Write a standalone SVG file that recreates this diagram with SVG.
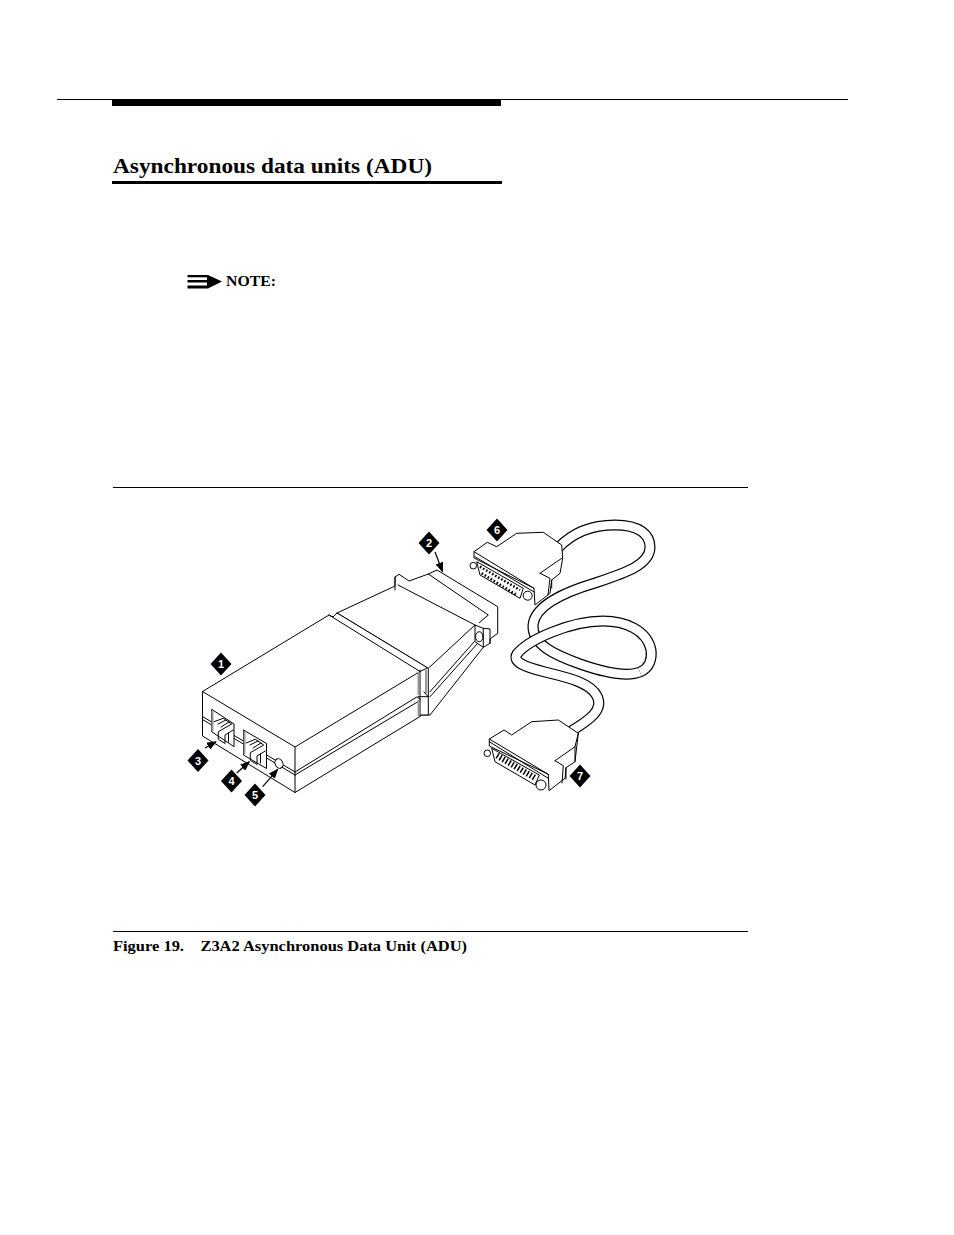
<svg xmlns="http://www.w3.org/2000/svg" width="954" height="1235" viewBox="0 0 954 1235">
<style>
.l{fill:none;stroke:#000;stroke-width:1;stroke-linejoin:round;stroke-linecap:round}
.a{fill:none;stroke:#000;stroke-width:1.2}
.f{fill:#fff;stroke:#000;stroke-width:1;stroke-linejoin:round}
.g{fill:none;stroke:#999;stroke-width:2}
.k{fill:#000}
.p{fill:none;stroke:#000;stroke-width:2.500;stroke-dasharray:1.600 1.900}
.n{font:bold 11px "Liberation Sans",Arial,sans-serif;fill:#fff;text-anchor:middle}
.s{font-family:"Liberation Serif","Times New Roman",serif;font-weight:bold;fill:#000}
.cb{fill:none;stroke:#000;stroke-width:11}
.cw{fill:none;stroke:#fff;stroke-width:8.6}
</style>
<defs>
<marker id="a" markerWidth="10" markerHeight="8" refX="9" refY="4" orient="auto" markerUnits="userSpaceOnUse"><path d="M0 0L10 4L0 8z" fill="#000"/></marker>
<path id="d" d="M0 -11.500L10.500 0L0 11.500L-10.500 0z" fill="#000"/>
</defs>
<rect width="954" height="1235" fill="#fff"/>
<g id="page-rules">
<rect class="k" x="57" y="99" width="791" height="1"/>
<rect class="k" x="112" y="99" width="389" height="7"/>
<rect class="k" x="112" y="181" width="390" height="3"/>
<rect class="k" x="113" y="487" width="635" height="1"/>
<rect class="k" x="113" y="931" width="635" height="1"/>
</g>
<text class="s" x="113" y="173" font-size="22" textLength="319" lengthAdjust="spacingAndGlyphs">Asynchronous data units (ADU)</text>
<g id="note-icon">
<path class="k" d="M187.500 275H208L222 281.500L208 288.500H187.500z"/>
<rect x="187" y="277.300" width="20" height="2.700" fill="#fff"/>
<rect x="187" y="282.500" width="20" height="3" fill="#fff"/>
</g>
<text class="s" x="226" y="286" font-size="14.500" textLength="50" lengthAdjust="spacingAndGlyphs">NOTE:</text>
<g id="cable">
<path class="cb" d="M558 548C575 530 595 525 615 525C640 525 650 535 650 547C650 565 625 573 595 583C565 592 535 605 533 625C532 645 555 655 580 664C600 671 625 678 640 672"/>
<path class="cw" d="M558 548C575 530 595 525 615 525C640 525 650 535 650 547C650 565 625 573 595 583C565 592 535 605 533 625C532 645 555 655 580 664C600 671 625 678 640 672"/>
<path class="cb" d="M640 672C650 668 652 658 651 650C647 630 625 621 603 621C570 621 528 640 517 654C512 662 525 667 545 672C565 677 590 682 597 696C604 710 590 720 568 733"/>
<path class="cw" d="M640 672C650 668 652 658 651 650C647 630 625 621 603 621C570 621 528 640 517 654C512 662 525 667 545 672C565 677 590 682 597 696C604 710 590 720 568 733"/>
</g>
<g id="adu">
<path class="f" d="M395 577L399 574.300L409 581L428.300 574L437 570L497.700 606.700V633.300L490 639V643.300L483.300 647.300L430 715H421V700L337 613L395 586Z"/>
<path class="l" d="M395 577V590M398 585L475 625M428.300 574L488.300 615L479.300 622.700M337 613L428.300 668.300L475 625V641.700L483.300 647.300V628.300L475 625M483.300 628.300L490 629V643.300M430 691.700L474.300 641.700M430 696.700L477.700 643.300"/>
<ellipse class="l" cx="479.300" cy="636.700" rx="3.800" ry="5"/>
<path class="f" d="M202.500 691.500L329 615L333 617L337 613L428.300 668.300V715H420V716.500L295 792.500L202.500 736Z"/>
<path class="l" d="M202.500 691.500L295 747L420 671.500L329 615M295 747V792.500M420 670V716.500M426.700 668.300L420 671.500M295 772L416.700 697L420 699M295 775L420 700.500M202.500 716.500L295 772M202.500 719.500L295 775M418 696.700L428.300 696.700L424 692"/>
<path class="g" d="M418.500 672V695M418.500 700V716M426 670V693"/>
<path class="f" d="M211.700 709.300L234 724V746.700L211.700 731.700Z"/>
<path class="l" d="M214 721.700L223.300 718.300L231.700 724L218.300 731.700V739.300L225 743.500V735L233.300 730M218 724L226 720M221 727L229 722M228.500 733V742"/>
<path class="g" d="M212.500 710.500V731" stroke-width="1.500"/>
<path class="f" d="M243.500 730L266.500 743.500V768.500L243.500 755Z"/>
<path class="l" d="M246 743L255.300 739.300L263.700 745L250.300 752.700V760.300L257 764.500V756L265.300 751M250 745L258 741M253 748L261 743M260.500 754V763"/>
<path class="g" d="M244.500 731V754" stroke-width="1.500"/>
<ellipse class="f" cx="279" cy="763.500" rx="3.800" ry="5" transform="rotate(-25 279 763.500)"/>
</g>
<g id="connector-6">
<path class="f" d="M474 551.700L487.300 542.300L496.700 546.700L516.700 533.300L543.300 532.300L561.700 545L562.700 558.300L560 573.300L551.700 580L550 593.300L535 605L534 588.300L474 558Z"/>
<path class="l" d="M474 551.700L534 588.300M475 556.700L534 592M540 573.300L561.700 558.300M540 573.300L550 578.300L548 595M551.700 580V588"/>
<path class="f" d="M476.700 561.700L523.300 588.300L520 598.300L480 575Z"/>
<path class="p" d="M480 566.700L520 590"/>
<path class="p" d="M481.700 573.300L516.700 595"/>
<circle class="f" cx="473.300" cy="565.700" r="3.300"/>
<circle class="f" cx="527.700" cy="595.700" r="4.500"/>
</g>
<g id="connector-7">
<path class="f" d="M489.300 739L504 730L511.700 735L531.700 721.700L558.300 720L578.300 733.300L575 761.700L566 767.700L565 778.300L549 790.700L548.300 774.300L489.300 746Z"/>
<path class="l" d="M489.300 739L548.300 774.300M489.300 741.700L548.300 778.300M555 760.700L575 746.700L578.300 733.300M575 746.700V761.700M555 760.700L563.300 765.700L562 783M566 767.700V779"/>
<path class="f" d="M491.700 748.300L539.300 775L535 785L495 761.700Z"/>
<path class="p" d="M497 755.500L535 778" style="stroke-width:6;stroke-dasharray:1.500 2"/>
<circle class="f" cx="487.300" cy="753.300" r="3.300"/>
<circle class="f" cx="541" cy="785" r="5"/>
</g>
<g id="callout-arrows">
<path class="a" d="M435 552L442.500 571.500" marker-end="url(#a)"/>
<path class="a" d="M205 748L216 741.700" marker-end="url(#a)"/>
<path class="a" d="M236.700 773L249.300 761.700" marker-end="url(#a)"/>
<path class="a" d="M262.700 786.700L277.700 769.300" marker-end="url(#a)"/>
</g>
<g id="badge-1"><use href="#d" x="221" y="664"/><text class="n" x="221" y="668">1</text></g>
<g id="badge-2"><use href="#d" x="429" y="543"/><text class="n" x="429" y="547">2</text></g>
<g id="badge-3"><use href="#d" x="198" y="760.500"/><text class="n" x="198" y="764.500">3</text></g>
<g id="badge-4"><use href="#d" x="231.500" y="781"/><text class="n" x="231.500" y="785">4</text></g>
<g id="badge-5"><use href="#d" x="255" y="795"/><text class="n" x="255" y="799">5</text></g>
<g id="badge-6"><use href="#d" x="497" y="530"/><text class="n" x="497" y="534">6</text></g>
<g id="badge-7"><use href="#d" x="580" y="776"/><text class="n" x="580" y="780">7</text></g>
<text class="s" x="113" y="950.500" font-size="14.500" textLength="354" lengthAdjust="spacingAndGlyphs" xml:space="preserve">Figure 19.    Z3A2 Asynchronous Data Unit (ADU)</text>
</svg>
